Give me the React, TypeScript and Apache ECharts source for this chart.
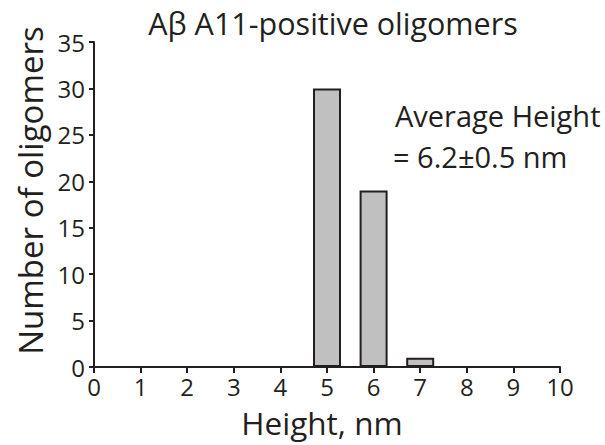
import React, { useEffect, useRef } from "react";
import * as echarts from "echarts";

const heights = [5, 6, 7];
const counts = [30, 19, 1];
const titleText = "Aβ A11-positive oligomers";
const xName = "Height, nm";
const yName = "Number of oligomers";
const noteLines = ["Average Height", "= 6.2±0.5 nm"];

const FONT = "Open Sans";
const INK = "#231f20";

export default function App() {
  const ref = useRef<HTMLDivElement>(null);
  useEffect(() => {
    document.body.style.margin = "0";
    if (!ref.current) return;
    const chart = echarts.init(ref.current, undefined, { renderer: "svg" });
    chart.setOption({
      animation: false,
      backgroundColor: "#ffffff",
      textStyle: { fontFamily: FONT, color: INK },
      title: {
        text: titleText,
        left: 328,
        top: 2,
        textAlign: "center",
        textStyle: { fontFamily: FONT, fontSize: 30.5, fontWeight: "normal", color: INK },
      },
      grid: { left: 94, right: 45, top: 42, bottom: 78 },
      xAxis: {
        type: "value",
        min: 0,
        max: 10,
        interval: 1,
        name: xName,
        nameLocation: "middle",
        nameGap: 39,
        nameTextStyle: { fontFamily: FONT, fontSize: 31.5, color: INK, padding: [0, 10, 0, 0] },
        axisLine: { show: true, onZero: false, lineStyle: { color: INK, width: 2 } },
        axisTick: { show: true, length: 6, lineStyle: { color: INK, width: 2 } },
        axisLabel: { fontFamily: FONT, fontSize: 24, color: INK, margin: 7 },
        splitLine: { show: false },
      },
      yAxis: {
        type: "value",
        min: 0,
        max: 35,
        interval: 5,
        name: yName,
        nameLocation: "middle",
        nameGap: 42,
        nameRotate: 90,
        nameTextStyle: { fontFamily: FONT, fontSize: 33, color: INK, padding: [0, 0, 0, 28] },
        axisLine: { show: true, lineStyle: { color: INK, width: 2 } },
        axisTick: { show: true, length: 5, lineStyle: { color: INK, width: 2 } },
        axisLabel: { fontFamily: FONT, fontSize: 24, color: INK, margin: 9 },
        splitLine: { show: false },
      },
      series: [
        {
          type: "bar",
          data: heights.map((h, i) => [h, counts[i]]),
          barWidth: 28,
          itemStyle: { color: "#c0c0c0", borderColor: INK, borderWidth: 2 },
        },
      ],
      graphic: noteLines.map((t, i) => ({
        type: "text",
        left: i === 0 ? 395 : 393,
        top: i === 0 ? 101 : 142,
        style: { text: t, fontFamily: FONT, fontSize: 29, fill: INK },
      })),
    });
    return () => chart.dispose();
  }, []);
  return <div ref={ref} style={{ width: 605, height: 445 }} />;
}
